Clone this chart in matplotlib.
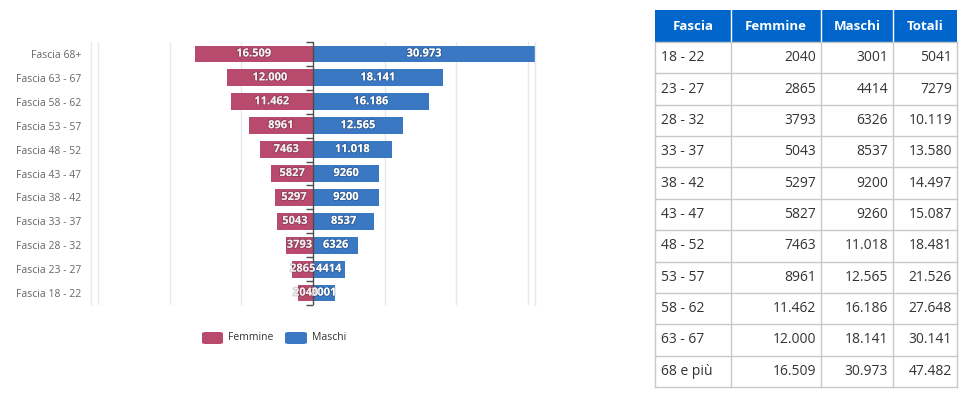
import matplotlib
matplotlib.use("Agg")
import matplotlib.pyplot as plt
import matplotlib.patheffects as pe
from matplotlib.patches import Rectangle, FancyBboxPatch
import numpy as np

plt.rcParams['font.family'] = ['Open Sans', 'DejaVu Sans']

# ---- data ----
fasce = ["18 - 22", "23 - 27", "28 - 32", "33 - 37", "38 - 42", "43 - 47",
         "48 - 52", "53 - 57", "58 - 62", "63 - 67", "68 e più"]
chart_labels = ["Fascia 18 - 22", "Fascia 23 - 27", "Fascia 28 - 32", "Fascia 33 - 37",
                "Fascia 38 - 42", "Fascia 43 - 47", "Fascia 48 - 52", "Fascia 53 - 57",
                "Fascia 58 - 62", "Fascia 63 - 67", "Fascia 68+"]
femmine = [2040, 2865, 3793, 5043, 5297, 5827, 7463, 8961, 11462, 12000, 16509]
maschi = [3001, 4414, 6326, 8537, 9200, 9260, 11018, 12565, 16186, 18141, 30973]
totali = [f + m for f, m in zip(femmine, maschi)]
table_headers = ["Fascia", "Femmine", "Maschi", "Totali"]

C_F = "#B84A6E"
C_M = "#3A78C4"


def fmt(v):
    if v >= 10000:
        return f"{v:,}".replace(",", ".")
    return str(v)


W, H = 970, 399
fig = plt.figure(figsize=(W / 100, H / 100), dpi=100)

# ---- chart ----
ax_l, ax_r, ax_t, ax_b = 91, 535, 42, 305
ax = fig.add_axes([ax_l / W, 1 - ax_b / H, (ax_r - ax_l) / W, (ax_b - ax_t) / H])
n = len(femmine)
y = np.arange(n)
xmax = max(maschi)
ax.set_xlim(-xmax, xmax)
ax.set_ylim(-0.5, n - 0.5)

for g in [-30000, -20000, -10000, 10000, 20000, 30000]:
    ax.axvline(g, color="#e6e9f0", lw=1, zorder=0)

bm = ax.barh(y, maschi, height=0.7, color=C_M, zorder=2)
bf = ax.barh(y, [-v for v in femmine], height=0.7, color=C_F, zorder=2)

ax.axvline(0, color="#4d4d4d", lw=1, zorder=3)
bounds = np.arange(-0.5, n, 1.0)
ax.plot(np.zeros_like(bounds), bounds, linestyle="none", marker=0, markersize=5,
        markeredgecolor="#4d4d4d", markeredgewidth=1, zorder=3, clip_on=False)

stroke = [pe.withStroke(linewidth=1.3, foreground=(0, 0, 0, 0.2))]
for yi, v in zip(y, maschi):
    ax.text(v / 2, yi, fmt(v), ha="center", va="center", color="white",
            fontsize=8, fontweight="bold", zorder=4, path_effects=stroke)
for yi, v in zip(y, femmine):
    ax.text(-v / 2, yi, fmt(v), ha="center", va="center", color="#f4eef0",
            fontsize=8, fontweight="bold", zorder=5, path_effects=stroke)

ax.set_yticks(y)
ax.set_yticklabels(chart_labels, fontsize=7.5, color="#666666")
ax.tick_params(axis="y", length=0, pad=7)
ax.set_xticks([])
for s in ["top", "bottom"]:
    ax.spines[s].set_visible(False)
for s in ["left", "right"]:
    ax.spines[s].set_color("#e6e9f0")
    ax.spines[s].set_linewidth(1)

# ---- legend ----
def fx(px):
    return px / W


def fy(py):
    return 1 - py / H


for x0, x1, col, lab in [(202, 223, C_F, "Femmine"), (285, 307, C_M, "Maschi")]:
    fig.patches.append(FancyBboxPatch((fx(x0), fy(344)), fx(x1 - x0), (344 - 332) / H,
                                      boxstyle="round,pad=0,rounding_size=0.004",
                                      transform=fig.transFigure, facecolor=col,
                                      edgecolor="none"))
    fig.text(fx(x1 + 5), fy(338), lab, fontsize=7.5, color="#333333", va="center", ha="left")

# ---- table ----
cols = [655, 731, 821, 893, 957]
top, head_bot, bottom = 10, 42, 387
row_h = (bottom - head_bot) / n
HEAD = "#0066CC"
GRID = "#c8c8c8"

fig.patches.append(Rectangle((fx(cols[0]), fy(head_bot)), fx(cols[-1] - cols[0]),
                             (head_bot - top) / H, transform=fig.transFigure,
                             facecolor=HEAD, edgecolor="none"))
for i, h in enumerate(table_headers):
    cx = (cols[i] + cols[i + 1]) / 2
    fig.text(fx(cx), fy((top + head_bot) / 2), h, ha="center", va="center",
             color="white", fontsize=9.5, fontweight="bold")
for c in cols[1:-1]:
    fig.add_artist(plt.Line2D([fx(c), fx(c)], [fy(top), fy(head_bot)],
                              transform=fig.transFigure, color="white", lw=1))

# grid lines
for r in range(n + 1):
    yy = head_bot + r * row_h
    fig.add_artist(plt.Line2D([fx(cols[0]), fx(cols[-1])], [fy(yy), fy(yy)],
                              transform=fig.transFigure, color=GRID, lw=1))
for c in cols:
    fig.add_artist(plt.Line2D([fx(c), fx(c)], [fy(head_bot), fy(bottom)],
                              transform=fig.transFigure, color=GRID, lw=1))

for r in range(n):
    cy = head_bot + (r + 0.5) * row_h
    fig.text(fx(cols[0] + 6), fy(cy), fasce[r], ha="left", va="center",
             fontsize=10, color="#333333")
    for j, vals in enumerate([femmine, maschi, totali]):
        fig.text(fx(cols[j + 2] - 5), fy(cy), fmt(vals[r]), ha="right", va="center",
                 fontsize=10, color="#333333")

fig.savefig("out.png", dpi=100)
